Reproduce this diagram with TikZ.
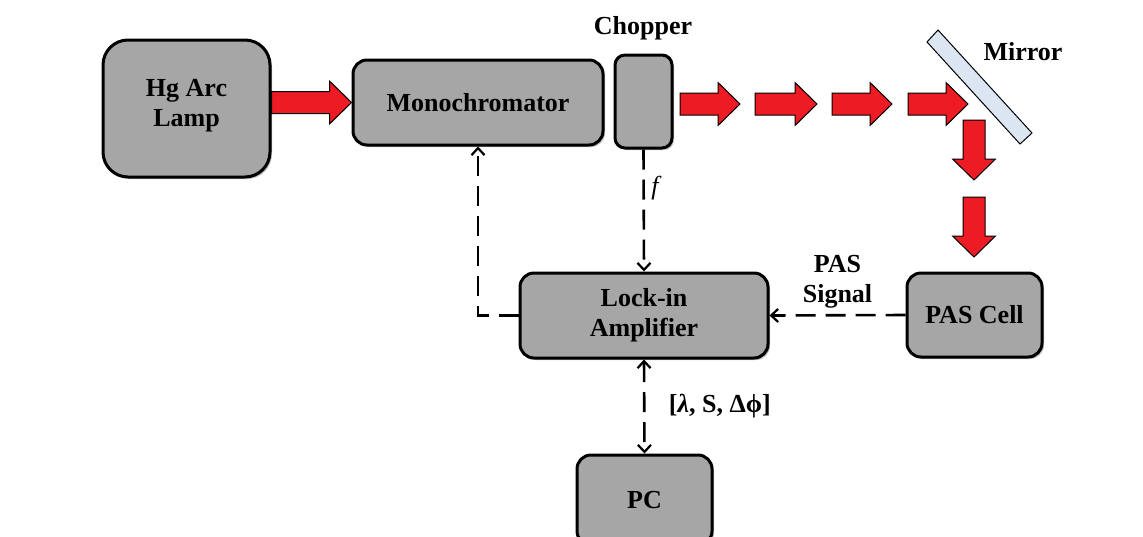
\documentclass[tikz,border=0pt]{standalone}
\usepackage{fontspec}
\setmainfont{Liberation Serif}
\usetikzlibrary{arrows.meta,calc,shadows}

\definecolor{boxgray}{RGB}{166,166,166}
\definecolor{beamred}{RGB}{237,28,36}
\definecolor{mirrorblue}{RGB}{220,230,242}

\tikzset{
  unit/.style={draw=black, line width=3pt, fill=boxgray, rounded corners=14pt,
    align=center, font=\fontsize{26}{30}\selectfont\bfseries,
    drop shadow={shadow xshift=2pt, shadow yshift=-2pt, opacity=0.25, fill=black}},
  caption/.style={align=center, font=\fontsize{26}{30}\selectfont\bfseries},
  signal/.style={line width=2.6pt, dash pattern=on 20pt off 10pt,
    >={Straight Barb[length=7pt,width=13pt,line width=2.2pt]}},
  beam/.style={draw=black, line width=1pt, fill=beamred, line join=miter}
}

% horizontal light beam from point #1 to tip #2
\newcommand\beamH[2]{%
  \draw[beam] let \p1=#1, \p2=#2 in
    (\x1,\y1+11pt) -- (\x2-22pt,\y1+11pt) -- (\x2-22pt,\y1+21.5pt) -- (\x2,\y1)
    -- (\x2-22pt,\y1-21.5pt) -- (\x2-22pt,\y1-11pt) -- (\x1,\y1-11pt) -- cycle;}
% downward light beam from point #1 to tip #2
\newcommand\beamV[2]{%
  \draw[beam] let \p1=#1, \p2=#2 in
    (\x1-11pt,\y1) -- (\x1-11pt,\y2+21pt) -- (\x1-21.5pt,\y2+21pt) -- (\x1,\y2)
    -- (\x1+21.5pt,\y2+21pt) -- (\x1+11pt,\y2+21pt) -- (\x1+11pt,\y1) -- cycle;}

\begin{document}
\begin{tikzpicture}[x=1pt, y=-1pt]
\useasboundingbox (0,0) rectangle (1143,536);
\clip (0,0) rectangle (1143,536);

% instruments
\node[unit, rounded corners=25pt, minimum width=167pt, minimum height=137pt]
  (lamp) at (186.5,108.5) {Hg Arc\\Lamp\\[-27pt]\strut};
\node[unit, minimum width=250pt, minimum height=85pt]
  (mono) at (478,102.5) {Monochromator};
\node[unit, rounded corners=10pt, minimum width=57pt, minimum height=93pt]
  (chop) at (643.5,101.5) {};
\node[unit, minimum width=248pt, minimum height=85pt]
  (lockin) at (644,315.5) {Lock-in\\Amplifier};
\node[unit, minimum width=135pt, minimum height=84pt]
  (cell) at (974.5,315) {PAS Cell};
\node[unit, minimum width=135pt, minimum height=90pt]
  (pc) at (644.5,500) {PC};

% mirror
\draw[fill=mirrorblue, line width=1pt] (938,30) -- (1032,133) -- (1020,144) -- (927,42) -- cycle;

% labels
\node[caption] (choplabel) at (643,28) {Chopper};
\node[caption] (mirrorlabel) at (1023,52) {Mirror};

% light path
\beamH{(lamp.east |- mono.west)}{(mono.west)}
\coordinate (b1) at (680,104);
\coordinate (b2) at (755,104);
\coordinate (b3) at (832,104);
\coordinate (b4) at (908,104);
\beamH{(b1)}{(740,104)}
\beamH{(b2)}{(817,104)}
\beamH{(b3)}{(892,104)}
\beamH{(b4)}{(968,104)}
\coordinate (d1) at (974,120);
\coordinate (d2) at (974,197);
\beamV{(d1)}{(974,180)}
\beamV{(d2)}{(974,257)}

% electrical signals
\draw[signal, ->] (chop.south) -- node[right=3pt, pos=0.32, font=\fontsize{26}{30}\selectfont\itshape] {f} (lockin.north);
\draw[signal, ->] (lockin.west) -| (mono.south);
\draw[signal, ->] (cell.west) -- node[caption, above=2pt] {PAS\\Signal} (lockin.east);
\draw[signal, <->] (lockin.south) -- node[right=20pt, pos=0.5, font=\fontsize{26}{30}\selectfont\bfseries]
  {[{\itshape λ}, S, Δϕ]} (pc.north);
\end{tikzpicture}
\end{document}
